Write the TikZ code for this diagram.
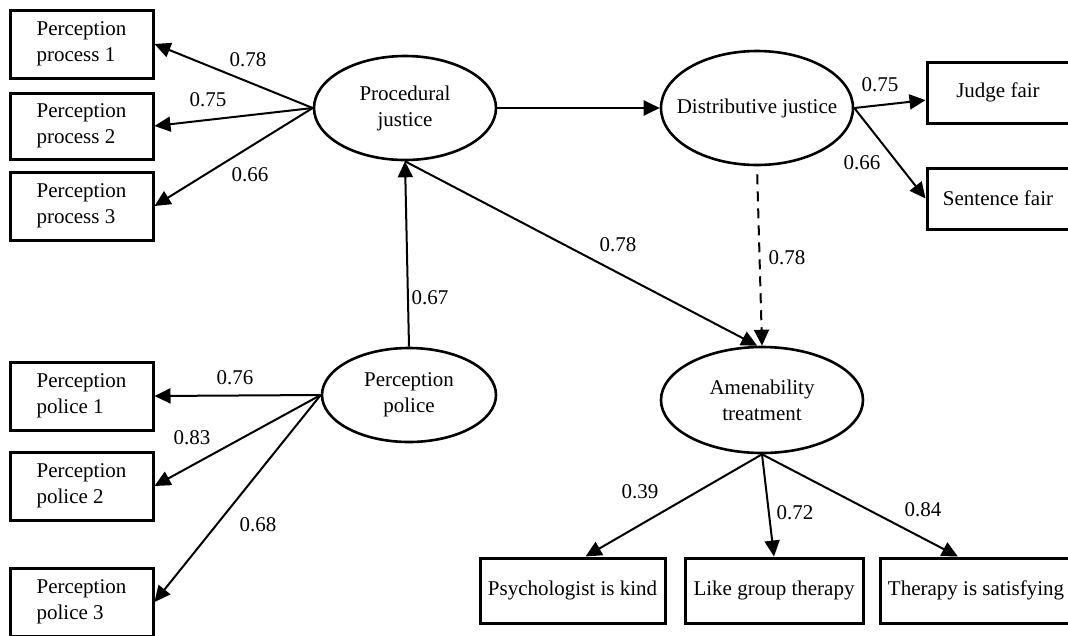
\documentclass[tikz,border=0pt]{standalone}
\usepackage{fontspec}
\setmainfont{Liberation Serif}
\usetikzlibrary{arrows.meta,shapes.geometric}
\begin{document}
\begin{tikzpicture}[x=1pt,y=-1pt,
  font=\fontsize{21}{26}\selectfont,
  obs/.style={draw,rectangle,line width=3pt,minimum width=143pt,minimum height=68pt,align=left,inner sep=0pt},
  lat/.style={draw,ellipse,line width=2.6pt,align=center,inner sep=0pt,inner xsep=-30pt},
  link/.style={line width=2pt,-{Triangle[length=16pt,width=15pt]}},
  coef/.style={inner sep=0pt}]
\useasboundingbox (0,0) rectangle (1068,635);
\node[obs] (pp1) at (81.5,44) {Perception\\process 1};
\node[obs,minimum height=66pt] (pp2) at (81.5,126) {Perception\\process 2};
\node[obs] (pp3) at (81.5,206) {Perception\\process 3};
\node[obs] (pc1) at (81.5,396) {Perception\\police 1};
\node[obs] (pc2) at (81.5,486) {Perception\\police 2};
\node[obs] (pc3) at (81.5,602) {Perception\\police 3};
\node[lat,minimum width=182pt,minimum height=104pt] (proc) at (405,108) {Procedural\\justice};
\node[lat,minimum width=192pt,minimum height=114pt] (dist) at (757,108) {Distributive justice};
\node[lat,minimum width=174pt,minimum height=94pt] (pol) at (409,395) {Perception\\police};
\node[lat,minimum width=202pt,minimum height=106pt] (amen) at (762,400) {Amenability\\treatment};
\node[obs,minimum width=142pt,minimum height=61pt] (judge) at (998,92.5) {Judge fair};
\node[obs,minimum width=142pt,minimum height=61pt] (sent) at (998,198.5) {Sentence fair};
\node[obs,minimum width=185pt,minimum height=65pt] (psy) at (572.5,590.5) {Psychologist is kind};
\node[obs,minimum width=178pt,minimum height=65pt] (grp) at (774,590.5) {Like group therapy};
\node[obs,minimum width=192pt,minimum height=65pt] (ther) at (976,590.5) {Therapy is satisfying};
\draw[link] (proc.west) -- (pp1.east);
\draw[link] (proc.west) -- (pp2.east);
\draw[link] (proc.west) -- (pp3.east);
\draw[link] (pol.west) -- (pc1.east);
\draw[link] (pol.west) -- (pc2.east);
\draw[link] (pol.west) -- (pc3.east);
\draw[link] (pol.north) -- (proc.south);
\draw[link] (proc.east) -- (dist.west);
\draw[link] (proc.south) -- (amen.95);
\draw[link,dash pattern=on 10pt off 7pt,shorten <=8pt] (dist.south) -- (amen.north);
\draw[link] (dist.east) -- (judge.186);
\draw[link] (dist.east) -- (sent.west);
\draw[link] (amen.south) -- (psy.69);
\draw[link] (amen.south) -- (grp.north);
\draw[link] (amen.south) -- (ther.118);
\node[coef] (c1) at (248,60) {0.78};
\node[coef] (c2) at (208,100) {0.75};
\node[coef] (c3) at (250,175) {0.66};
\node[coef] (c4) at (235,378) {0.76};
\node[coef] (c5) at (192,438) {0.83};
\node[coef] (c6) at (258,525) {0.68};
\node[coef] (c7) at (430,298) {0.67};
\node[coef] (c8) at (618,245) {0.78};
\node[coef] (c9) at (787,258) {0.78};
\node[coef] (c10) at (880,85) {0.75};
\node[coef] (c11) at (862,163) {0.66};
\node[coef] (c12) at (640,492) {0.39};
\node[coef] (c13) at (795,513) {0.72};
\node[coef] (c14) at (923,510) {0.84};
\end{tikzpicture}
\end{document}
